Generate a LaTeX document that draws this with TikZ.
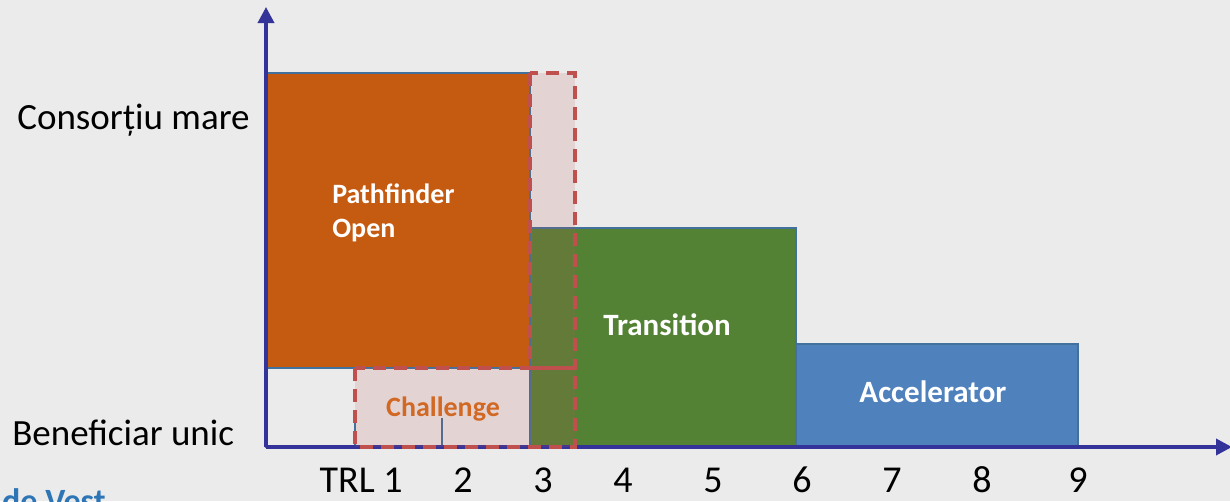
\documentclass[tikz,border=0pt]{standalone}
\usepackage{fontspec}
\setmainfont{Carlito}
\usepackage{xcolor}
\usetikzlibrary{arrows,arrows.meta}

\definecolor{axisblue}{RGB}{51,51,153}
\definecolor{edgeblue}{RGB}{65,113,156}
\definecolor{pforange}{RGB}{197,90,17}
\definecolor{trgreen}{RGB}{84,130,53}
\definecolor{acblue}{RGB}{79,129,189}
\definecolor{chred}{RGB}{192,80,77}
\definecolor{chtext}{RGB}{209,104,35}
\definecolor{footblue}{RGB}{46,117,182}

\begin{document}
\begin{tikzpicture}[x=1pt,y=-1pt,>=stealth',semithick]
    \tikzstyle{phase}=[draw=edgeblue, line width=1.5pt, inner sep=0pt]
    \tikzstyle{label}=[font=\bfseries\fontsize{31}{36}\selectfont, text=white, inner sep=0pt]
    \tikzstyle{axis}=[draw=axisblue, line width=3.5pt, -{Triangle[length=16pt,width=16pt]}]
    \tikzstyle{trl}=[font=\fontsize{38}{40}\selectfont, anchor=base, inner sep=0pt]
    \tikzstyle{size}=[font=\fontsize{37}{40}\selectfont, anchor=base west, inner sep=0pt]
    \tikzstyle{dashbox}=[draw=chred, line width=3.5pt, dash pattern=on 13pt off 8pt,
        fill=chred, fill opacity=0.15]
    \useasboundingbox[fill=black!8] (0,0) rectangle (1230,501);
    % boxes
    \node[phase, minimum width=264pt, minimum height=79pt] (single) at (398,407.5) {};
    \node[phase, fill=pforange, minimum width=264pt, minimum height=295pt] (pathfinder) at (398,220.5) {};
    \node[phase, fill=trgreen, minimum width=266pt, minimum height=219pt] (transition) at (663,337.5) {};
    \node[phase, fill=acblue, minimum width=282pt, minimum height=103pt] (accelerator) at (937,395.5) {};
    \draw[edgeblue, line width=1.2pt] (355,418) -- (355,447);
    \draw[edgeblue, line width=1.2pt] (442,418) -- (442,447);
    % axes
    \coordinate (o) at (266,447);
    \coordinate (ytip) at (266,7);
    \coordinate (xtip) at (1232,447);
    \draw[axis] (o) -- (ytip);
    \draw[axis] (o) -- (xtip);
    % challenge
    \draw[dashbox] (355,368) rectangle (575,447);
    \draw[dashbox] (530,73) rectangle (575,368);
    % texts
    \node[label, font=\bfseries\fontsize{28}{34}\selectfont, align=left, anchor=base west] (pfopen) at (332,237) {Pathfinder\\Open};
    \node[label, anchor=base] (trtext) at (667,335) {Transition};
    \node[label, anchor=base] (actext) at (933,402) {Accelerator};
    \node[label, font=\bfseries\fontsize{28}{32}\selectfont, text=chtext, anchor=base] (chtext) at (443,416) {Challenge};
    \node[size] (large) at (17,129) {Consorțiu mare};
    \node[size] (unic) at (12,445) {Beneficiar unic};
    \node[trl, anchor=base east] (t1) at (403,492) {TRL 1};
    \node[trl] (t2) at (463,492) {2};
    \node[trl] (t3) at (543,492) {3};
    \node[trl] (t4) at (623,492) {4};
    \node[trl] (t5) at (713,492) {5};
    \node[trl] (t6) at (802,492) {6};
    \node[trl] (t7) at (892,492) {7};
    \node[trl] (t8) at (982,492) {8};
    \node[trl] (t9) at (1078,492) {9};
    \node[font=\bfseries\fontsize{34}{36}\selectfont, text=footblue, anchor=base east, inner sep=0pt] (vest) at (106,512) {de Vest};
\end{tikzpicture}
\end{document}
